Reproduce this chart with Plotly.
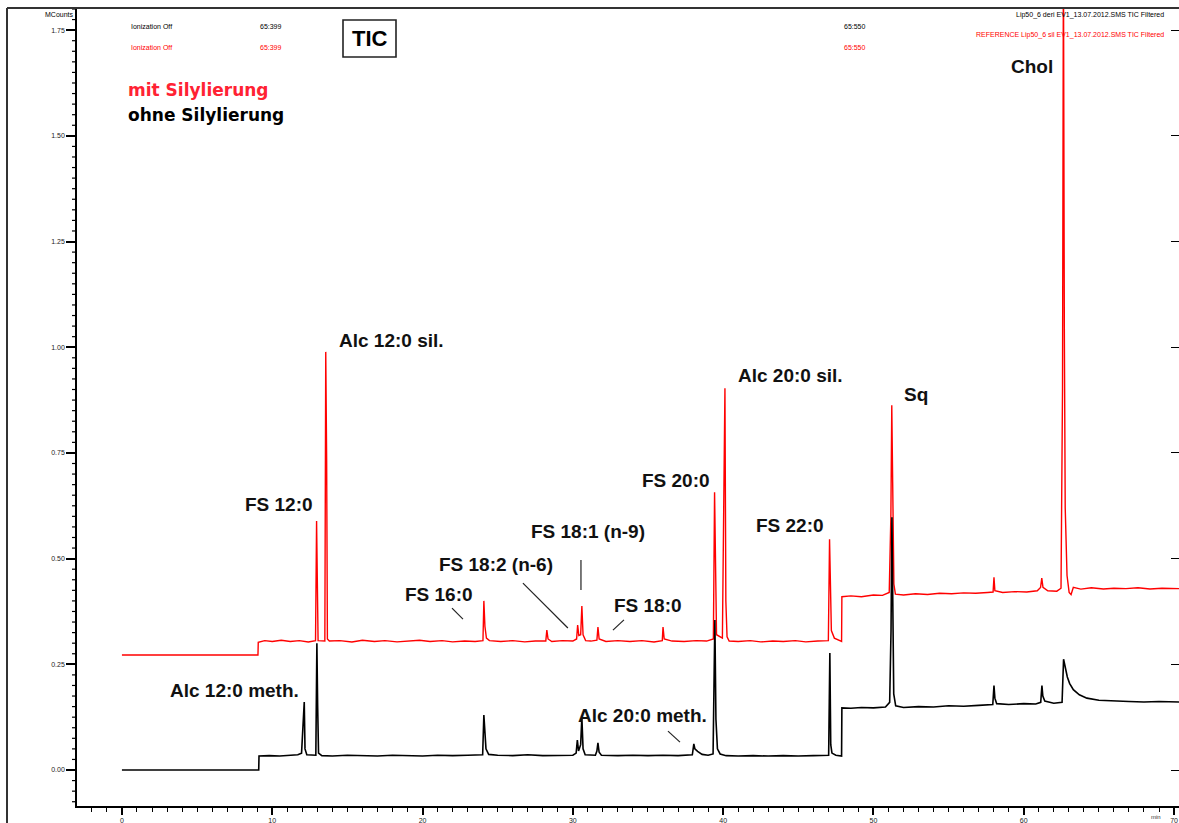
import plotly.graph_objects as go

# ---------------- data ----------------
# retention time in minutes, intensity in MCounts
red_time = [0.0, 9.05, 9.07, 9.5, 10.0, 10.6, 11.2, 11.8, 12.4, 12.88, 12.95, 13.0, 13.05,
            13.5, 13.56, 13.62, 13.67, 13.8, 14.5, 15.3, 16.0, 16.8, 17.5, 18.3, 19.0, 19.8,
            20.5, 21.3, 22.0, 22.8, 23.5, 24.02, 24.08, 24.15, 24.25, 24.45, 25.2, 26.0,
            26.8, 27.5, 28.2, 28.27, 28.35, 28.6, 29.3, 30.0, 30.25, 30.32, 30.4, 30.52,
            30.6, 30.68, 30.85, 31.2, 31.6, 31.67, 31.75, 32.2, 33.0, 33.8, 34.6, 35.4,
            35.95, 36.0, 36.08, 36.6, 37.4, 38.2, 38.9, 39.35, 39.43, 39.5, 39.56, 39.95,
            40.04, 40.12, 40.18, 40.26, 40.4, 41.0, 41.8, 42.5, 43.3, 44.0, 44.8, 45.5,
            46.3, 47.0, 47.08, 47.14, 47.2, 47.4, 47.7, 47.88, 47.9, 48.5, 49.2, 50.0,
            50.6, 51.05, 51.16, 51.22, 51.28, 51.36, 51.46, 52.0, 52.8, 53.6, 54.4, 55.2,
            56.0, 56.8, 57.6, 57.96, 58.02, 58.08, 58.6, 59.4, 60.2, 60.9, 61.12, 61.2,
            61.28, 61.6, 62.2, 62.48, 62.58, 62.64, 62.7, 62.76, 62.88, 63.02, 63.15,
            63.3, 63.8, 64.5, 65.3, 66.0, 66.8, 67.6, 68.4, 69.2, 70.4]
red_intensity = [0.272, 0.272, 0.302, 0.306, 0.304, 0.307, 0.304, 0.306, 0.303, 0.306, 0.589,
                 0.36, 0.306, 0.305, 0.989, 0.733, 0.31, 0.305, 0.306, 0.303, 0.307, 0.304,
                 0.306, 0.303, 0.305, 0.307, 0.304, 0.306, 0.303, 0.305, 0.304, 0.306, 0.400,
                 0.34, 0.312, 0.306, 0.304, 0.306, 0.303, 0.305, 0.305, 0.331, 0.31, 0.304,
                 0.306, 0.305, 0.31, 0.343, 0.318, 0.32, 0.388, 0.32, 0.306, 0.305, 0.307,
                 0.338, 0.31, 0.304, 0.306, 0.304, 0.306, 0.303, 0.306, 0.338, 0.31, 0.305,
                 0.304, 0.306, 0.305, 0.31, 0.657, 0.45, 0.32, 0.312, 0.686, 0.903, 0.40,
                 0.315, 0.305, 0.304, 0.306, 0.303, 0.305, 0.304, 0.306, 0.303, 0.305, 0.306,
                 0.546, 0.40, 0.33, 0.312, 0.306, 0.304, 0.410, 0.412, 0.410, 0.414, 0.413,
                 0.42, 0.60, 0.863, 0.68, 0.44, 0.416, 0.414, 0.417, 0.415, 0.418, 0.417,
                 0.419, 0.418, 0.420, 0.421, 0.456, 0.424, 0.420, 0.422, 0.421, 0.424, 0.432,
                 0.454, 0.432, 0.424, 0.423, 0.43, 0.9, 1.95, 1.05, 0.62, 0.46, 0.42, 0.415,
                 0.432, 0.428, 0.431, 0.428, 0.430, 0.429, 0.431, 0.428, 0.430, 0.429]

black_time = [0.0, 9.1, 9.12, 9.8, 10.5, 11.2, 11.7, 11.95, 12.06, 12.13, 12.18, 12.3, 12.9,
              12.97, 13.02, 13.08, 13.3, 14.0, 15.0, 16.0, 17.0, 18.0, 19.0, 20.0, 21.0, 22.0,
              23.0, 24.0, 24.08, 24.14, 24.22, 24.4, 25.0, 26.0, 27.0, 28.0, 29.0, 30.0, 30.22,
              30.3, 30.38, 30.52, 30.6, 30.68, 30.82, 31.5, 31.6, 31.67, 31.75, 31.9, 33.0,
              34.0, 35.0, 36.0, 37.0, 37.95, 38.05, 38.12, 38.3, 38.6, 39.0, 39.33, 39.45,
              39.52, 39.62, 39.8, 40.2, 41.0, 42.0, 43.0, 44.0, 45.0, 46.0, 47.02, 47.1,
              47.16, 47.24, 47.5, 47.88, 47.9, 48.5, 49.2, 50.0, 50.8, 51.08, 51.17, 51.23,
              51.29, 51.35, 51.48, 52.0, 53.0, 54.0, 55.0, 56.0, 57.0, 57.94, 58.02, 58.08,
              58.2, 59.0, 60.0, 60.8, 61.13, 61.21, 61.27, 61.4, 62.0, 62.55, 62.65, 62.75,
              62.9, 63.05, 63.3, 63.7, 64.2, 65.0, 66.0, 67.0, 68.0, 69.0, 70.4]
black_intensity = [0.000, 0.000, 0.033, 0.034, 0.033, 0.035, 0.036, 0.04, 0.10, 0.161, 0.05,
                   0.036, 0.035, 0.30, 0.154, 0.04, 0.034, 0.033, 0.035, 0.034, 0.033, 0.035,
                   0.034, 0.033, 0.035, 0.034, 0.035, 0.036, 0.130, 0.10, 0.05, 0.037, 0.035,
                   0.034, 0.036, 0.034, 0.035, 0.035, 0.04, 0.071, 0.045, 0.06, 0.125, 0.05,
                   0.036, 0.035, 0.045, 0.064, 0.042, 0.035, 0.034, 0.035, 0.034, 0.035, 0.034,
                   0.036, 0.062, 0.05, 0.044, 0.037, 0.035, 0.038, 0.355, 0.12, 0.05, 0.038,
                   0.034, 0.033, 0.034, 0.033, 0.034, 0.033, 0.034, 0.035, 0.277, 0.06, 0.04,
                   0.035, 0.033, 0.147, 0.146, 0.148, 0.147, 0.149, 0.16, 0.33, 0.598, 0.33,
                   0.18, 0.152, 0.148, 0.150, 0.149, 0.152, 0.151, 0.153, 0.155, 0.20, 0.17,
                   0.157, 0.155, 0.157, 0.156, 0.16, 0.20, 0.175, 0.163, 0.158, 0.16, 0.262,
                   0.245, 0.22, 0.205, 0.19, 0.178, 0.17, 0.165, 0.163, 0.162, 0.161, 0.162,
                   0.161]

x_tick_step = 10
x_minor_step = 1
y_tick_step = 0.25
y_minor_per_major = 10

peak_labels = ["Chol", "Alc 12:0 sil.", "Alc 20:0 sil.", "Sq", "FS 12:0", "FS 20:0",
               "FS 18:1 (n-9)", "FS 22:0", "FS 18:2 (n-6)", "FS 16:0", "FS 18:0",
               "Alc 12:0 meth.", "Alc 20:0 meth."]
label_time = [60.55, 17.96, 44.51, 52.83, 10.45, 36.86, 31.0, 44.44, 24.88, 21.09, 35.0,
              7.52, 34.66]
label_intensity = [1.663, 1.015, 0.932, 0.889, 0.627, 0.684, 0.565, 0.579, 0.485, 0.416,
                   0.388, 0.187, 0.130]

# leader lines: (t0, i0, t1, i1)
leader_t0 = [30.54, 26.68, 21.96, 32.67, 36.33]
leader_i0 = [0.497, 0.442, 0.383, 0.331, 0.092]
leader_t1 = [30.54, 29.67, 22.69, 33.40, 37.13]
leader_i1 = [0.426, 0.336, 0.357, 0.355, 0.066]

# ---------------- figure ----------------
W, H = 1179, 823
L, R, T, B = 77, 0, 9, 17
pw, ph = W - L - R, H - T - B


def px(xp):
    return (xp - L) / pw


def py(yp):
    return (H - B - yp) / ph


fig = go.Figure()
fig.add_trace(go.Scatter(x=red_time, y=red_intensity, mode="lines",
                         line=dict(color="#ff0000", width=1.4), name="mit Silylierung",
                         hoverinfo="x+y"))
fig.add_trace(go.Scatter(x=black_time, y=black_intensity, mode="lines",
                         line=dict(color="#000000", width=1.6), name="ohne Silylierung",
                         yaxis="y2", hoverinfo="x+y"))

yr = [-0.0851, 1.800]
fig.update_layout(
    width=W, height=H,
    margin=dict(l=L, r=R, t=T, b=B, pad=0),
    paper_bgcolor="white", plot_bgcolor="white",
    showlegend=False,
    font=dict(family="Liberation Sans, Arial, sans-serif", color="black"),
    xaxis=dict(range=[-2.99, 70.33], tickmode="linear", tick0=0, dtick=x_tick_step,
               ticks="outside", ticklen=7,
               tickwidth=1.5, tickcolor="black", showline=True, linecolor="black",
               linewidth=1.6, showgrid=False, zeroline=False,
               tickfont=dict(size=7, color="#222"),
               minor=dict(tick0=0, dtick=x_minor_step, ticks="outside", ticklen=4,
                          tickwidth=1.3, tickcolor="black", showgrid=False)),
    yaxis=dict(range=yr, tickmode="linear", tick0=0, dtick=y_tick_step, tickformat=".2f",
               ticks="outside", ticklen=9, tickwidth=1.5, tickcolor="black",
               showline=True, linecolor="black", linewidth=1.6, showgrid=False,
               zeroline=False, tickfont=dict(size=7, color="#222")),
    # plain tick marks on the right edge
    yaxis2=dict(range=yr, overlaying="y", side="right", tickmode="linear", tick0=0,
                dtick=y_tick_step, showticklabels=False, ticks="inside", ticklen=8,
                tickwidth=1.3, tickcolor="black", showline=False, showgrid=False,
                zeroline=False),
)

# minor tick comb on the left y axis (10 per major step), placed through the y scale
minor_step = y_tick_step / y_minor_per_major


def y_to_paper(v):
    return (v - yr[0]) / (yr[1] - yr[0])


k = int(yr[0] / minor_step)
while k * minor_step <= yr[1]:
    v = k * minor_step
    if k % y_minor_per_major != 0 and v >= yr[0]:
        fig.add_shape(type="line", xref="paper", yref="paper", x0=px(72), x1=px(77),
                      y0=y_to_paper(v), y1=y_to_paper(v),
                      line=dict(color="black", width=1.2))
    k += 1

lab_font = dict(family="Liberation Sans, Arial, sans-serif", size=19, color="#111")
for txt, t, v in zip(peak_labels, label_time, label_intensity):
    fig.add_annotation(x=t, y=v, text="<b>%s</b>" % txt, showarrow=False,
                       xanchor="center", yanchor="middle", font=lab_font)

for a, b, c, d in zip(leader_t0, leader_i0, leader_t1, leader_i1):
    fig.add_shape(type="line", x0=a, y0=b, x1=c, y1=d, xref="x", yref="y",
                  line=dict(color="#222", width=1.2))

# outer frame
fig.add_shape(type="line", xref="paper", yref="paper", x0=px(7), y0=py(8), x1=px(7),
              y1=py(823), line=dict(color="#333", width=2))
fig.add_shape(type="line", xref="paper", yref="paper", x0=px(7), y0=py(8), x1=px(1179),
              y1=py(8), line=dict(color="#333", width=2))

# TIC box
fig.add_shape(type="rect", xref="paper", yref="paper", x0=px(343), x1=px(396),
              y0=py(20), y1=py(57), line=dict(color="#222", width=1.6))
fig.add_annotation(xref="paper", yref="paper", x=px(369.5), y=py(39), text="<b>TIC</b>",
                   showarrow=False, xanchor="center", yanchor="middle",
                   font=dict(family="Liberation Sans, Arial", size=22, color="black"))

big = dict(family="DejaVu Sans, Verdana, sans-serif", size=17)
fig.add_annotation(xref="paper", yref="paper", x=px(126), y=py(90),
                   text="<b>mit Silylierung</b>", showarrow=False, xanchor="left",
                   yanchor="middle", font=dict(color="#ff2233", **big))
fig.add_annotation(xref="paper", yref="paper", x=px(126), y=py(115),
                   text="<b>ohne Silylierung</b>", showarrow=False, xanchor="left",
                   yanchor="middle", font=dict(color="black", **big))

small = dict(family="Liberation Sans, Arial", size=7)
headers = [
    ("MCounts", 76, 15, "right", "black"),
    ("Ionization Off", 129, 27, "left", "black"),
    ("65:399", 258, 27, "left", "black"),
    ("Ionization Off", 129, 47, "left", "#ff0000"),
    ("65:399", 258, 47, "left", "#ff0000"),
    ("65:550", 842, 27, "left", "black"),
    ("65:550", 842, 47, "left", "#ff0000"),
    ("Lip50_6 deri EV1_13.07.2012.SMS TIC Filtered", 1166, 15, "right", "black"),
    ("REFERENCE Lip50_6 sil EV1_13.07.2012.SMS TIC Filtered", 1166, 35, "right",
     "#ff0000"),
]
for txt, xx, yy, anc, col in headers:
    fig.add_annotation(xref="paper", yref="paper", x=px(xx), y=py(yy), text=txt,
                       showarrow=False, xanchor=anc, yanchor="middle",
                       font=dict(color=col, **small))

# axis unit under the last x tick
fig.add_annotation(xref="paper", yref="paper", x=px(1163), y=py(822), text="min",
                   showarrow=False, xanchor="right", yanchor="bottom",
                   font=dict(color="#333", family="Liberation Sans, Arial", size=6))

fig.write_html("out.html")
